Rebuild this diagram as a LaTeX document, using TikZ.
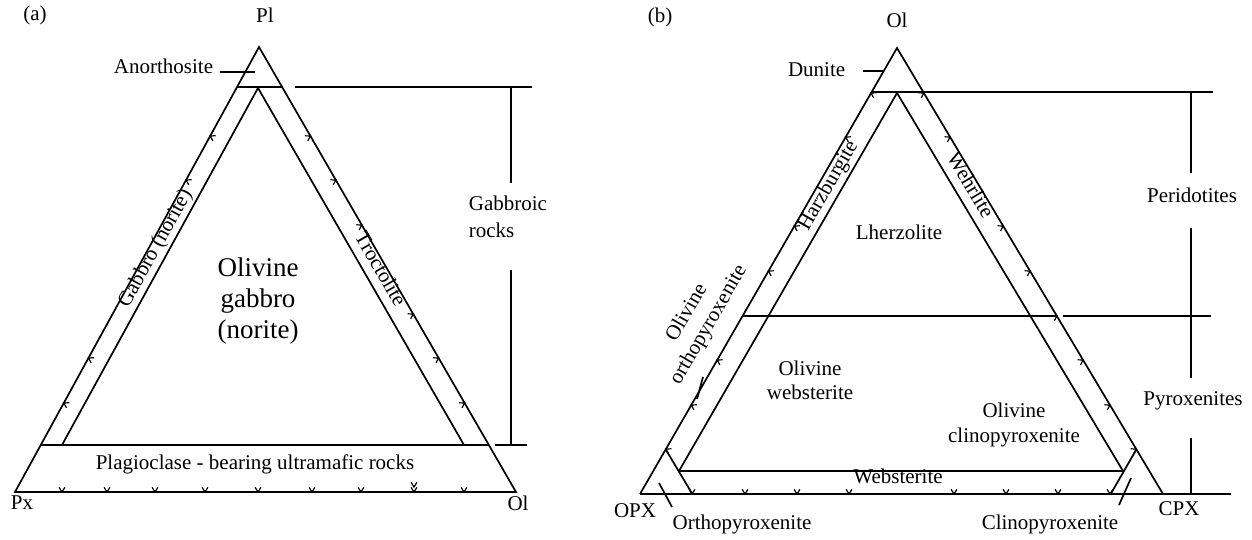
\documentclass[tikz,border=0pt]{standalone}
\usepackage{fontspec}
\setmainfont{Liberation Serif}
\usetikzlibrary{calc}
\newcommand\tkv[3]{\draw[tks] (#1,#2) ++(#3+32:5.5) -- (#1,#2) -- ++(#3-32:5.5);}
\begin{document}
\begin{tikzpicture}[x=1pt,y=-1pt,line width=1.7pt,
  lbl/.style={font=\fontsize{21}{26}\selectfont,inner sep=0pt,text height=0.68em,text depth=0.2em},
  mlbl/.style={font=\fontsize{21}{25}\selectfont,inner sep=0pt,align=center},
  big/.style={font=\fontsize{27}{31}\selectfont,inner sep=0pt,align=center},
  tks/.style={line width=1.2pt}]
\useasboundingbox (0,0) rectangle (1252,540);

% ---------------- panel (a) ----------------
\coordinate (aPl) at (259,47);
\coordinate (aPx) at (15,492);
\coordinate (aOl) at (516,492);
\coordinate (aIL) at (62,445);
\coordinate (aIA) at (258,88);
\coordinate (aIR) at (464,445);
\draw[line join=miter] (aPx) -- (aPl) -- (aOl) -- cycle;
\draw (237,87) -- (282,87);
\draw (aIL) -- (aIA) -- (aIR);
\draw (41,445) -- (489,445);
% anorthosite pointer
\coordinate (anT) at (220,72);
\coordinate (anE) at (255,72);
\draw (anT) -- (anE);
\node[lbl,anchor=east] (anor) at (214,71) {Anorthosite};
% bracket
\draw (295,87) -- (532,87);
\draw (511,87) -- (511,183);
\node[font=\fontsize{21}{27}\selectfont,inner sep=0pt,align=left,anchor=north west] (gab) at (468,195) {Gabbroic\\rocks};
\draw (511,270) -- (511,445);
\draw (495,445) -- (527,445);
% labels
\node[lbl] (la) at (35,18) {(a)};
\node[lbl] (lPl) at (265,20) {Pl};
\node[lbl] (lPx) at (22,507) {Px};
\node[lbl] (lOla) at (518,508) {Ol};
\node[big] (olg) at (258,301) {Olivine\\gabbro\\(norite)};
\node[lbl] (plag) at (255,467) {Plagioclase - bearing ultramafic rocks};
\node[lbl,rotate=61] (gabn) at (158,250) {Gabbro (norite)};
\node[lbl,rotate=-60] (troc) at (377,271) {Troctolite};
% ticks
\foreach \x in {62,107,155,205,258,312,361,414,464} {\tkv{\x}{492}{-90}}
\tkv{414}{487}{-90}
\foreach \y in {136,180,358,403} {\pgfmathsetmacro\xx{259-0.5483*(\y-47)}\tkv{\xx}{\y}{29}}
\foreach \y in {136,180,225,314,358,403} {\pgfmathsetmacro\xx{259+0.5775*(\y-47)}\tkv{\xx}{\y}{150}}

% ---------------- panel (b) ----------------
\coordinate (bOl) at (897,48);
\coordinate (bOPX) at (640,494);
\coordinate (bCPX) at (1163,494);
\coordinate (bIA) at (897,93);
\coordinate (bIL) at (679,471);
\coordinate (bIR) at (1123,471);
\draw[line join=miter] (bOPX) -- (bOl) -- (bCPX);
\draw (bOPX) -- (1231,494);
\draw (871.6,92) -- (1213,92);
\draw (bIL) -- (bIA) -- (bIR);
\draw (bIL) -- (bIR);
\draw (742.6,316) -- (1056.8,316);
\draw (665.7,449.4) -- (692.3,494);
\draw (1136.4,449.4) -- (1110.7,494);
% dunite pointer
\draw (863,71) -- (884,71);
\node[lbl,anchor=east] (dun) at (846,74) {Dunite};
% brackets
\draw (1063,316) -- (1211,316);
\draw (1191,92) -- (1191,173);
\draw (1191,228) -- (1191,378);
\draw (1191,438) -- (1191,494);
\node[lbl] (per) at (1192,200) {Peridotites};
\node[lbl] (pyr) at (1193,403) {Pyroxenites};
% pointer slashes
\draw (703,377) -- (697,399);
\draw (659,483) -- (672,507);
\draw (1131,478) -- (1119,505);
% labels
\node[lbl] (lb) at (660,20) {(b)};
\node[lbl] (lOlb) at (897,25) {Ol};
\node[lbl] (lher) at (899,237) {Lherzolite};
\node[lbl,rotate=60] (harz) at (831,187) {Harzburgite};
\node[lbl,rotate=-59] (wehr) at (967,187) {Wehrlite};
\node[mlbl,rotate=60] (oop) at (698,319) {Olivine\\orthopyroxenite};
\node[font=\fontsize{21}{24}\selectfont,inner sep=0pt,align=center] (ows) at (810,380) {Olivine\\websterite};
\node[mlbl] (ocp) at (1014,425) {Olivine\\clinopyroxenite};
\node[lbl] (webs) at (898,481) {Websterite};
\node[lbl] (lopx) at (635,515) {OPX};
\node[lbl] (orth) at (742,527) {Orthopyroxenite};
\node[lbl] (clin) at (1050,527) {Clinopyroxenite};
\node[lbl] (lcpx) at (1179,513) {CPX};
% ticks
\foreach \x in {692,745,797,849,954,1006,1058,1110} {\tkv{\x}{494}{-90}}
\foreach \y in {93,137,226,271,360,405,449} {\pgfmathsetmacro\xx{640+0.5762*(494-\y)}\tkv{\xx}{\y}{30}}
\foreach \y in {93,137,226,271,316,360,405,449} {\pgfmathsetmacro\xx{897+0.5964*(\y-48)}\tkv{\xx}{\y}{150}}
\end{tikzpicture}
\end{document}
